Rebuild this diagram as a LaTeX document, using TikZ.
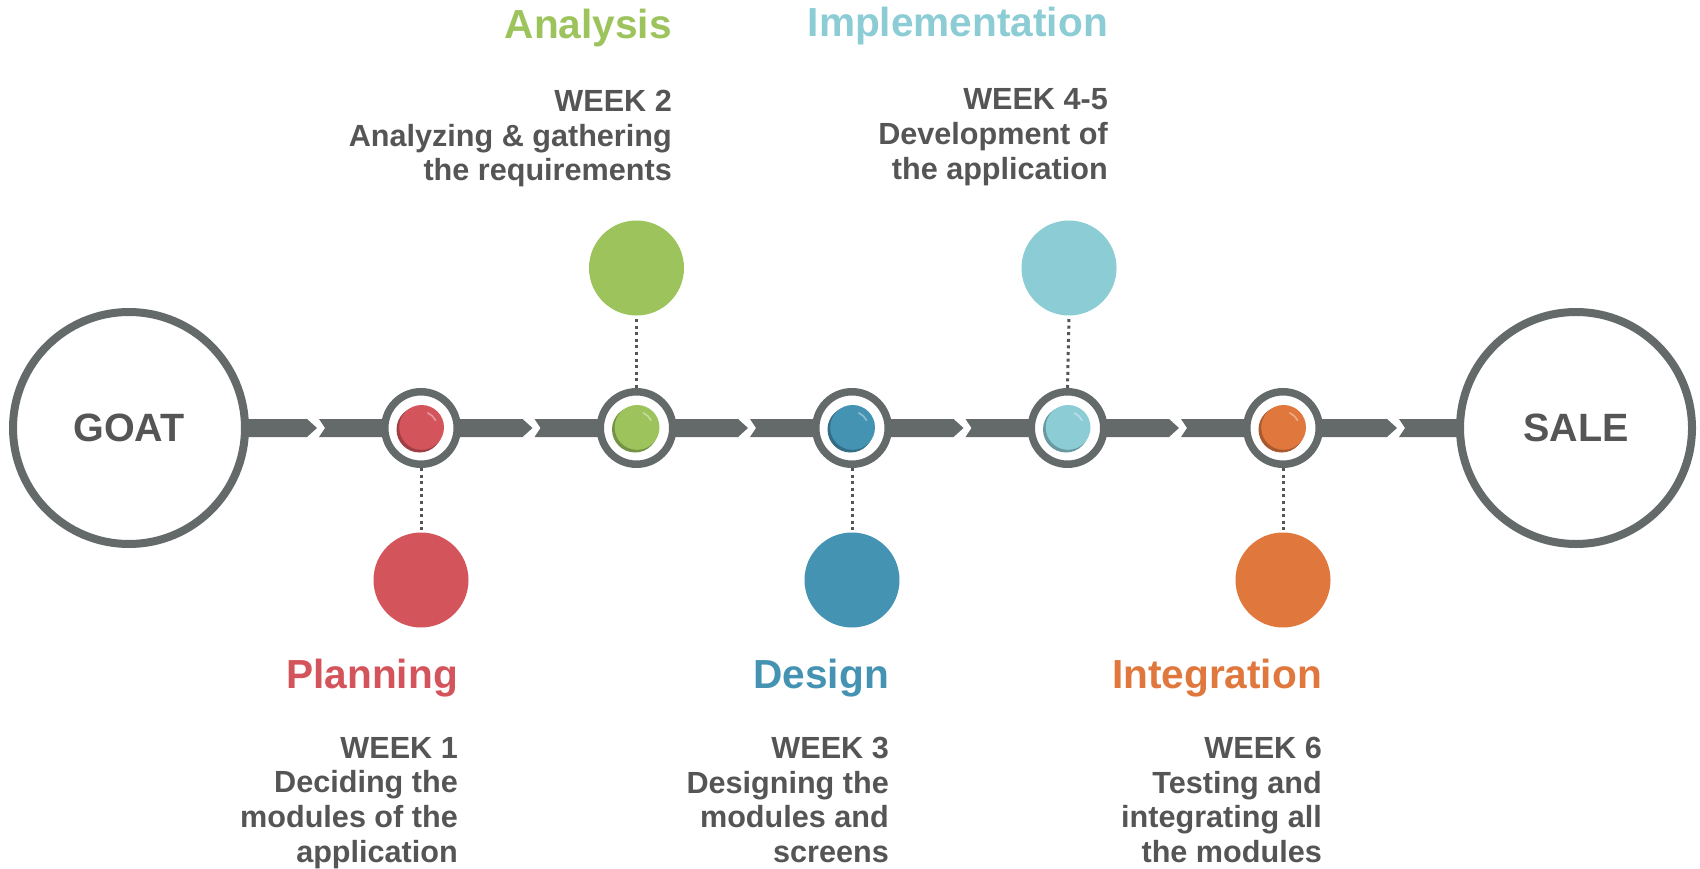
\documentclass[tikz,border=0pt]{standalone}
\usepackage{fontspec}
\setmainfont{Liberation Sans}
\definecolor{cred}{HTML}{D4545C}
\definecolor{cgreen}{HTML}{9DC45C}
\definecolor{clblue}{HTML}{8CCCD5}
\definecolor{cblue}{HTML}{4593B3}
\definecolor{corange}{HTML}{E0773D}
\definecolor{cgray}{HTML}{636A69}
\definecolor{ctext}{HTML}{555555}
\newcommand\mysmallball[2]{%
  \begin{scope}[shift={(#1)}, yscale=-1]
    \fill[#2!75!black] (-1.5,-1.5) circle (23);
    \fill[#2] (0.6,0.6) circle (22.4);
    \draw[white, opacity=0.4, line width=1.6pt, line cap=round] (28:16.5) arc (28:66:16.5);
  \end{scope}}
\begin{document}
\begin{tikzpicture}[x=1pt, y=-1pt,
  bigc/.style={circle, draw=cgray, line width=8pt, fill=white, minimum size=232pt, inner sep=0,
    font=\fontsize{39.5}{42}\selectfont\bfseries, text=ctext},
  ringc/.style={circle, draw=cgray, line width=7.5pt, fill=white, minimum size=72.5pt, inner sep=0},
  ballc/.style={circle, fill=#1, minimum size=95pt, inner sep=0},
  dotline/.style={draw=ctext, line width=3pt, dash pattern=on 3pt off 3.6pt},
  titletxt/.style={font=\fontsize{40.6}{44}\selectfont\bfseries, anchor=base east, inner sep=0, text=#1},
  bodytxt/.style={font=\fontsize{30.6}{34.7}\selectfont\bfseries, text=ctext, align=right, anchor=north east, inner sep=0}
]
\fill[white] (0,0) rectangle (1700,869);
\useasboundingbox (0,0) rectangle (1700,869);

% timeline bar (chevron segments)
\fill[cgray] (129,419) -- (307,419) -- (317,428) -- (307,437) -- (129,437) -- cycle;
\foreach \a/\b in {317/532.5, 532.5/748, 748/963.5, 963.5/1179, 1179/1397}{
  \fill[cgray] (\a+2,419) -- (\a+8,428) -- (\a+2,437) -- (\b-10,437) -- (\b,428) -- (\b-10,419) -- cycle;
}
\fill[cgray] (1399,419) -- (1405,428) -- (1399,437) -- (1576,437) -- (1576,419) -- cycle;

% end circles
\node[bigc] (goat) at (129,428) {GOAT};
\node[bigc] (sale) at (1576,428) {SALE};

% milestone rings
\node[ringc] (m1) at (421,428) {};
\node[ringc] (m2) at (636.5,428) {};
\node[ringc] (m3) at (852,428) {};
\node[ringc] (m4) at (1067.5,428) {};
\node[ringc] (m5) at (1283,428) {};

\mysmallball{421,428}{cred}
\mysmallball{636.5,428}{cgreen}
\mysmallball{852,428}{cblue}
\mysmallball{1067.5,428}{clblue}
\mysmallball{1283,428}{corange}

% big colored balls
\node[ballc=cred] (b1) at (421,580) {};
\node[ballc=cgreen] (b2) at (636.5,268) {};
\node[ballc=cblue] (b3) at (852,580) {};
\node[ballc=clblue] (b4) at (1069,268) {};
\node[ballc=corange] (b5) at (1283,580) {};

% dotted connectors
\draw[dotline] (m1.south) -- (b1.north);
\draw[dotline] (m2.north) -- (b2.south);
\draw[dotline] (m3.south) -- (b3.north);
\draw[dotline] (m4.north) -- (b4.south);
\draw[dotline] (m5.south) -- (b5.north);

% texts top
\node[titletxt=cgreen] (t2) at (672,39) {Analysis};
\node[bodytxt] (d2) at (672,90) {WEEK 2\\Analyzing \& gathering\\the requirements};
\node[titletxt=clblue] (t4) at (1108,37) {Implementation};
\node[bodytxt] (d4) at (1108,88.5) {WEEK 4-5\\Development of\\the application};

% texts bottom
\node[titletxt=cred] (t1) at (458,688) {Planning};
\node[bodytxt] (d1) at (458,737) {WEEK 1\\Deciding the\\modules of the\\application};
\node[titletxt=cblue] (t3) at (889,688) {Design};
\node[bodytxt] (d3) at (889,737) {WEEK 3\\Designing the\\modules and\\screens};
\node[titletxt=corange] (t5) at (1322,688) {Integration};
\node[bodytxt] (d5) at (1322,737) {WEEK 6\\Testing and\\integrating all\\the modules};
\end{tikzpicture}
\end{document}
